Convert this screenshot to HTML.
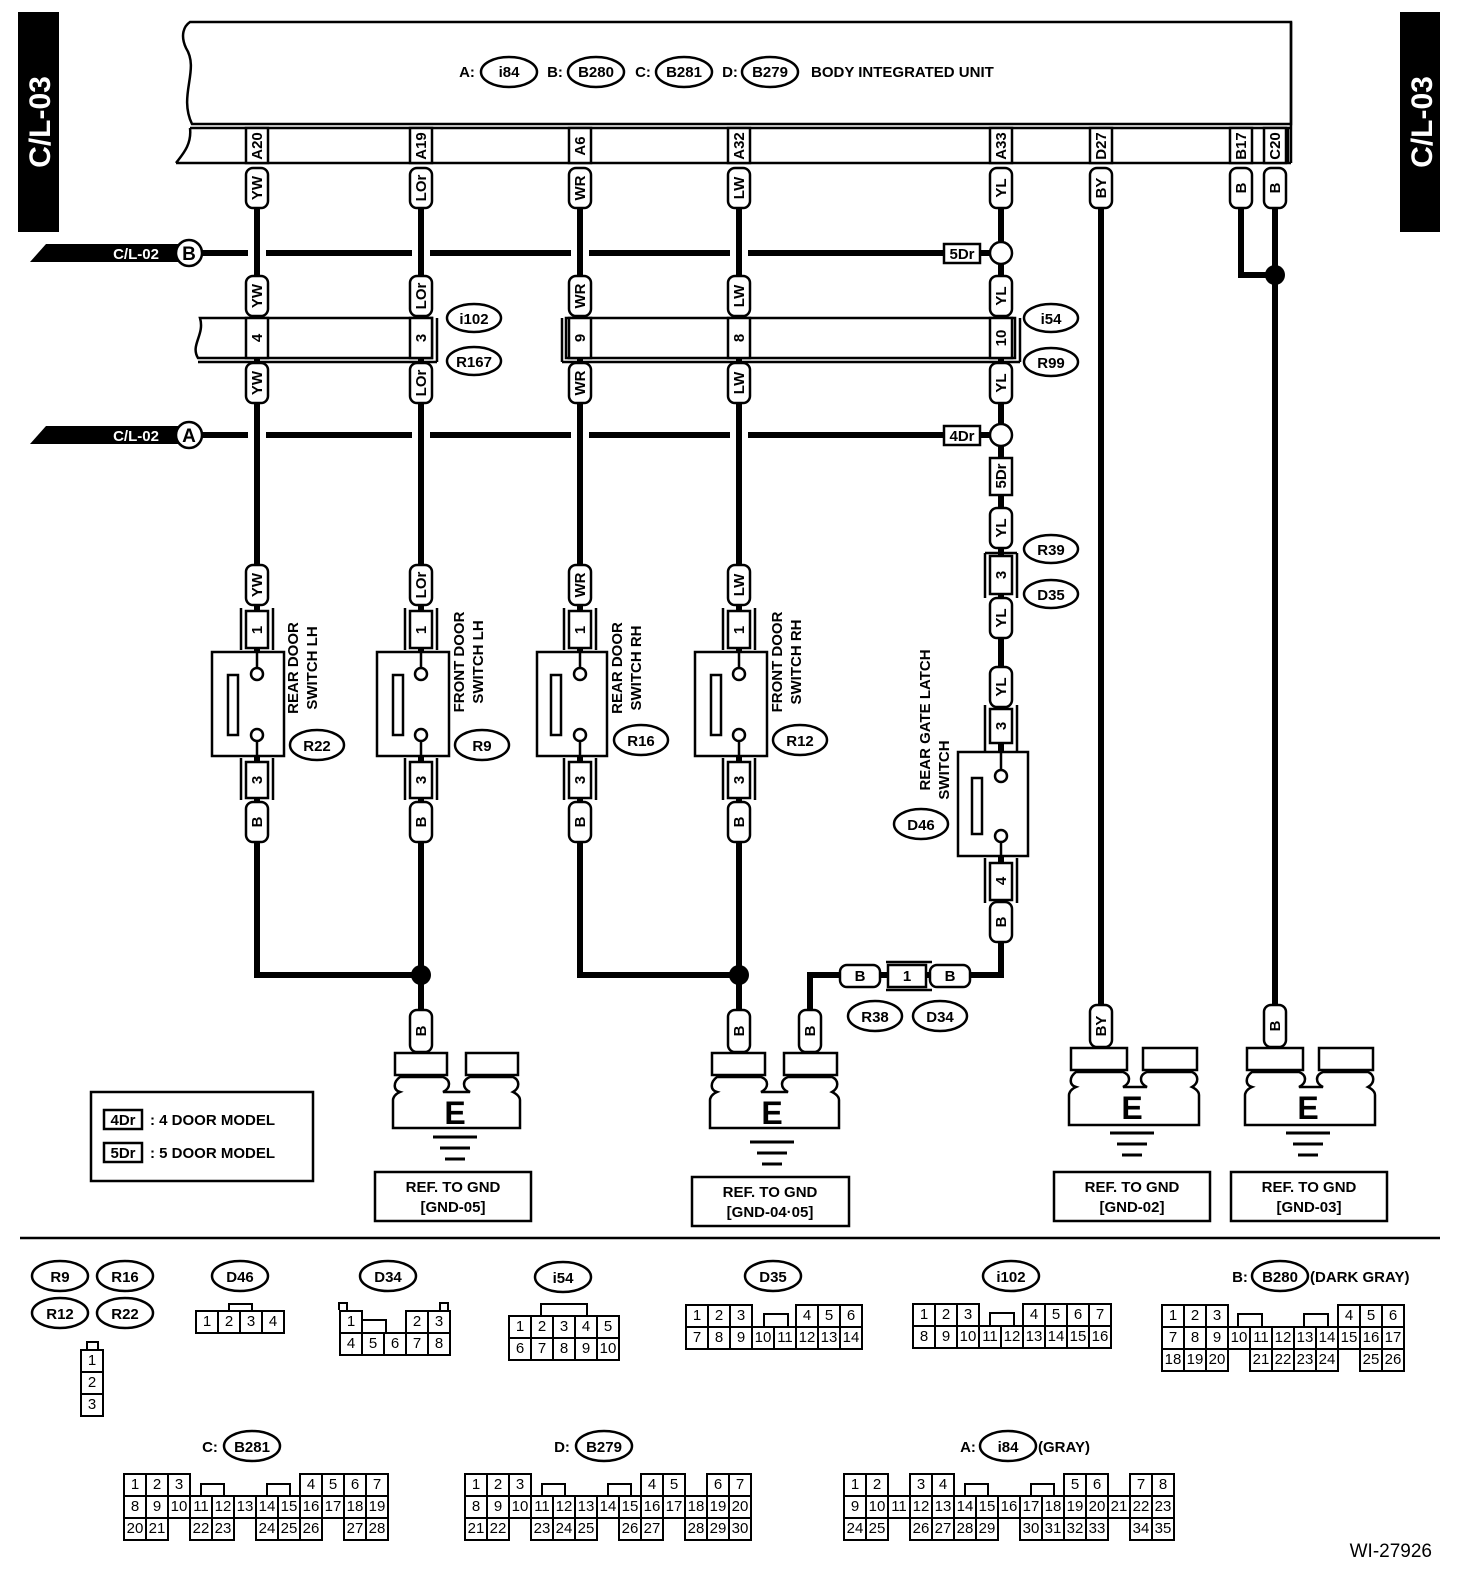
<!DOCTYPE html>
<html><head><meta charset="utf-8"><style>
body{margin:0;background:#fff}
#w{position:relative;width:1472px;height:1576px;overflow:hidden;font-family:"Liberation Sans",sans-serif}
svg{position:absolute;left:0;top:0}
svg text{font-family:"Liberation Sans",sans-serif;font-weight:bold}
table{position:absolute;border-collapse:collapse;font-size:15px}
td{border:2px solid #000;width:20px;height:20px;padding:0;text-align:center;line-height:20px}
td.n{border:none}
</style></head><body><div id="w">
<svg width="1472" height="1576" viewBox="0 0 1472 1576">
<g fill="none" stroke="#000" stroke-width="2.5">
<path d="M190,22 H1291 V124 H192 C178,95 200,70 186,48 C180,35 184,26 190,22 Z"/>
<path d="M190,128 H1291 M176,163 H1291 M190,128 C192,145 182,155 176,163 M1291,22 V163 M1288,128 V163"/>
</g>
<rect x="18" y="12" width="41" height="220"/>
<rect x="1400" y="12" width="40" height="220"/>
<text transform="translate(50,122) rotate(-90)" fill="#fff" font-size="30" text-anchor="middle">C/L-03</text>
<text transform="translate(1432,122) rotate(-90)" fill="#fff" font-size="30" text-anchor="middle">C/L-03</text>
<g font-size="15" text-anchor="middle">
<text x="467" y="77">A:</text><ellipse cx="509" cy="72" rx="28" ry="15" fill="none" stroke="#000" stroke-width="2.5"/><text x="509" y="77">i84</text>
<text x="555" y="77">B:</text><ellipse cx="596" cy="72" rx="28" ry="15" fill="none" stroke="#000" stroke-width="2.5"/><text x="596" y="77">B280</text>
<text x="643" y="77">C:</text><ellipse cx="684" cy="72" rx="28" ry="15" fill="none" stroke="#000" stroke-width="2.5"/><text x="684" y="77">B281</text>
<text x="730" y="77">D:</text><ellipse cx="770" cy="72" rx="28" ry="15" fill="none" stroke="#000" stroke-width="2.5"/><text x="770" y="77">B279</text>
<text x="811" y="77" text-anchor="start">BODY INTEGRATED UNIT</text>
</g>
<g stroke="#000" stroke-width="6">
<line x1="180" y1="253" x2="1001" y2="253"/><line x1="180" y1="435" x2="1001" y2="435"/>
</g>
<g fill="#fff">
<rect x="248" y="240" width="18" height="26"/><rect x="412" y="240" width="18" height="26"/><rect x="571" y="240" width="18" height="26"/><rect x="730" y="240" width="18" height="26"/>
<rect x="248" y="422" width="18" height="26"/><rect x="412" y="422" width="18" height="26"/><rect x="571" y="422" width="18" height="26"/><rect x="730" y="422" width="18" height="26"/>
</g>
<polygon points="30,262 46,244 180,244 180,262"/><polygon points="30,444 46,426 180,426 180,444"/>
<text x="136" y="259" fill="#fff" font-size="15" font-weight="normal" text-anchor="middle">C/L-02</text>
<text x="136" y="441" fill="#fff" font-size="15" font-weight="normal" text-anchor="middle">C/L-02</text>
<g fill="#fff" stroke="#000" stroke-width="2.5"><circle cx="189" cy="253" r="13"/><circle cx="189" cy="435" r="13"/></g>
<text x="189" y="260" font-size="19" text-anchor="middle">B</text><text x="189" y="442" font-size="19" text-anchor="middle">A</text>
<g stroke="#000" stroke-width="6" fill="none">
<path d="M257,207 V975 H421"/><path d="M421,207 V1010"/>
<path d="M580,207 V975 H739"/><path d="M739,207 V1010"/>
<path d="M1001,207 V975 H810 V1010"/>
<path d="M1101,207 V1005"/><path d="M1241,207 V275 H1275"/><path d="M1275,207 V1005"/>
</g>
<circle cx="421" cy="975" r="10"/><circle cx="739" cy="975" r="10"/><circle cx="1275" cy="275" r="10"/>
<g fill="#fff" stroke="#000" stroke-width="2.5"><circle cx="1001" cy="253" r="11"/><circle cx="1001" cy="435" r="11"/></g>
<g fill="#fff" stroke="#000" stroke-width="2.5">
<path d="M200,318 H432 V358 H198 C190,345 205,335 200,318 Z"/>
<path d="M566,318 H1015 V358 H566 Z"/>
</g>
<g stroke="#000" stroke-width="2.5"><line x1="437" y1="318" x2="437" y2="362"/><line x1="198" y1="362" x2="437" y2="362"/><line x1="562" y1="318" x2="562" y2="362"/><line x1="562" y1="362" x2="1020" y2="362"/><line x1="1020" y1="318" x2="1020" y2="362"/></g>
<g fill="#fff" stroke="#000" stroke-width="2.5">
<rect x="246" y="128" width="22" height="35"/><rect x="410" y="128" width="22" height="35"/><rect x="569" y="128" width="22" height="35"/><rect x="728" y="128" width="22" height="35"/><rect x="990" y="128" width="22" height="35"/><rect x="1090" y="128" width="22" height="35"/><rect x="1230" y="128" width="22" height="35"/><rect x="1264" y="128" width="22" height="35"/>
<rect x="246" y="168" width="22" height="40" rx="7"/><rect x="410" y="168" width="22" height="40" rx="7"/><rect x="569" y="168" width="22" height="40" rx="7"/><rect x="728" y="168" width="22" height="40" rx="7"/><rect x="990" y="168" width="22" height="40" rx="7"/><rect x="1090" y="168" width="22" height="40" rx="7"/><rect x="1230" y="168" width="22" height="40" rx="7"/><rect x="1264" y="168" width="22" height="40" rx="7"/>
<rect x="246" y="276" width="22" height="40" rx="7"/><rect x="410" y="276" width="22" height="40" rx="7"/><rect x="569" y="276" width="22" height="40" rx="7"/><rect x="728" y="276" width="22" height="40" rx="7"/><rect x="990" y="276" width="22" height="40" rx="7"/>
<rect x="246" y="318" width="22" height="40"/><rect x="410" y="318" width="22" height="40"/><rect x="569" y="318" width="22" height="40"/><rect x="728" y="318" width="22" height="40"/><rect x="990" y="318" width="22" height="40"/>
<rect x="246" y="363" width="22" height="40" rx="7"/><rect x="410" y="363" width="22" height="40" rx="7"/><rect x="569" y="363" width="22" height="40" rx="7"/><rect x="728" y="363" width="22" height="40" rx="7"/><rect x="990" y="363" width="22" height="40" rx="7"/>
<rect x="944" y="244" width="36" height="19"/><rect x="944" y="426" width="36" height="19"/>
<rect x="990" y="458" width="22" height="37"/>
<rect x="990" y="508" width="22" height="40" rx="7"/><rect x="990" y="556" width="22" height="38"/><rect x="990" y="598" width="22" height="40" rx="7"/>
<rect x="990" y="667" width="22" height="40" rx="7"/><rect x="990" y="709" width="22" height="34"/>
<rect x="958" y="752" width="70" height="104"/>
<rect x="990" y="863" width="22" height="37"/><rect x="990" y="902" width="22" height="40" rx="7"/>
<rect x="840" y="965" width="40" height="22" rx="7"/><rect x="888" y="965" width="38" height="22"/><rect x="930" y="965" width="40" height="22" rx="7"/>
<rect x="246" y="565" width="22" height="40" rx="7"/><rect x="410" y="565" width="22" height="40" rx="7"/><rect x="569" y="565" width="22" height="40" rx="7"/><rect x="728" y="565" width="22" height="40" rx="7"/>
<rect x="246" y="611" width="22" height="37"/><rect x="410" y="611" width="22" height="37"/><rect x="569" y="611" width="22" height="37"/><rect x="728" y="611" width="22" height="37"/>
<rect x="212" y="652" width="72" height="104"/><rect x="377" y="652" width="72" height="104"/><rect x="537" y="652" width="70" height="104"/><rect x="695" y="652" width="72" height="104"/>
<rect x="246" y="762" width="22" height="36"/><rect x="410" y="762" width="22" height="36"/><rect x="569" y="762" width="22" height="36"/><rect x="728" y="762" width="22" height="36"/>
<rect x="246" y="802" width="22" height="40" rx="7"/><rect x="410" y="802" width="22" height="40" rx="7"/><rect x="569" y="802" width="22" height="40" rx="7"/><rect x="728" y="802" width="22" height="40" rx="7"/>
<rect x="410" y="1010" width="22" height="42" rx="7"/><rect x="728" y="1010" width="22" height="42" rx="7"/><rect x="799" y="1010" width="22" height="42" rx="7"/><rect x="1090" y="1005" width="22" height="42" rx="7"/><rect x="1264" y="1005" width="22" height="42" rx="7"/>
</g>
<g stroke="#000" stroke-width="2.5">
<path d="M241,608 V650 M273,608 V650 M405,608 V650 M437,608 V650 M564,608 V650 M596,608 V650 M723,608 V650 M755,608 V650"/>
<path d="M241,758 V800 M273,758 V800 M405,758 V800 M437,758 V800 M564,758 V800 M596,758 V800 M723,758 V800 M755,758 V800"/>
<path d="M985,553 V598 M1017,553 V598 M985,553 H1017 M985,705 V752 M1017,705 V752 M985,858 V903 M1017,858 V903 M886,962 H932 M886,990 H932"/>
<path d="M257,652 V668 M257,740 V756 M421,652 V668 M421,740 V756 M580,652 V668 M580,740 V756 M739,652 V668 M739,740 V756 M1001,752 V770 M1001,842 V856"/>
</g>
<g fill="#fff" stroke="#000" stroke-width="2.5">
<rect x="228" y="675" width="10" height="60"/><rect x="393" y="675" width="10" height="60"/><rect x="551" y="675" width="10" height="60"/><rect x="711" y="675" width="10" height="60"/><rect x="972" y="778" width="10" height="56"/>
<circle cx="257" cy="674" r="6"/><circle cx="257" cy="735" r="6"/><circle cx="421" cy="674" r="6"/><circle cx="421" cy="735" r="6"/><circle cx="580" cy="674" r="6"/><circle cx="580" cy="735" r="6"/><circle cx="739" cy="674" r="6"/><circle cx="739" cy="735" r="6"/><circle cx="1001" cy="776" r="6"/><circle cx="1001" cy="836" r="6"/>
</g>
<g font-size="15" text-anchor="middle">
<text transform="translate(262,146) rotate(-90)">A20</text><text transform="translate(426,146) rotate(-90)">A19</text><text transform="translate(585,146) rotate(-90)">A6</text><text transform="translate(744,146) rotate(-90)">A32</text><text transform="translate(1006,146) rotate(-90)">A33</text><text transform="translate(1106,146) rotate(-90)">D27</text><text transform="translate(1246,146) rotate(-90)">B17</text><text transform="translate(1280,146) rotate(-90)">C20</text>
<text transform="translate(262,188) rotate(-90)">YW</text><text transform="translate(426,188) rotate(-90)">LOr</text><text transform="translate(585,188) rotate(-90)">WR</text><text transform="translate(744,188) rotate(-90)">LW</text><text transform="translate(1006,188) rotate(-90)">YL</text><text transform="translate(1106,188) rotate(-90)">BY</text><text transform="translate(1246,188) rotate(-90)">B</text><text transform="translate(1280,188) rotate(-90)">B</text>
<text transform="translate(262,296) rotate(-90)">YW</text><text transform="translate(426,296) rotate(-90)">LOr</text><text transform="translate(585,296) rotate(-90)">WR</text><text transform="translate(744,296) rotate(-90)">LW</text><text transform="translate(1006,296) rotate(-90)">YL</text>
<text transform="translate(262,338) rotate(-90)">4</text><text transform="translate(426,338) rotate(-90)">3</text><text transform="translate(585,338) rotate(-90)">9</text><text transform="translate(744,338) rotate(-90)">8</text><text transform="translate(1006,338) rotate(-90)">10</text>
<text transform="translate(262,383) rotate(-90)">YW</text><text transform="translate(426,383) rotate(-90)">LOr</text><text transform="translate(585,383) rotate(-90)">WR</text><text transform="translate(744,383) rotate(-90)">LW</text><text transform="translate(1006,383) rotate(-90)">YL</text>
<text transform="translate(1006,476) rotate(-90)">5Dr</text><text transform="translate(1006,528) rotate(-90)">YL</text><text transform="translate(1006,575) rotate(-90)">3</text><text transform="translate(1006,618) rotate(-90)">YL</text><text transform="translate(1006,687) rotate(-90)">YL</text><text transform="translate(1006,726) rotate(-90)">3</text><text transform="translate(1006,881) rotate(-90)">4</text><text transform="translate(1006,922) rotate(-90)">B</text>
<text transform="translate(262,585) rotate(-90)">YW</text><text transform="translate(426,585) rotate(-90)">LOr</text><text transform="translate(585,585) rotate(-90)">WR</text><text transform="translate(744,585) rotate(-90)">LW</text>
<text transform="translate(262,630) rotate(-90)">1</text><text transform="translate(426,630) rotate(-90)">1</text><text transform="translate(585,630) rotate(-90)">1</text><text transform="translate(744,630) rotate(-90)">1</text>
<text transform="translate(262,780) rotate(-90)">3</text><text transform="translate(426,780) rotate(-90)">3</text><text transform="translate(585,780) rotate(-90)">3</text><text transform="translate(744,780) rotate(-90)">3</text>
<text transform="translate(262,822) rotate(-90)">B</text><text transform="translate(426,822) rotate(-90)">B</text><text transform="translate(585,822) rotate(-90)">B</text><text transform="translate(744,822) rotate(-90)">B</text>
<text transform="translate(426,1031) rotate(-90)">B</text><text transform="translate(744,1031) rotate(-90)">B</text><text transform="translate(815,1031) rotate(-90)">B</text><text transform="translate(1106,1026) rotate(-90)">BY</text><text transform="translate(1280,1026) rotate(-90)">B</text>
<text transform="translate(298,668) rotate(-90)">REAR DOOR</text><text transform="translate(317,668) rotate(-90)">SWITCH LH</text>
<text transform="translate(464,662) rotate(-90)">FRONT DOOR</text><text transform="translate(483,662) rotate(-90)">SWITCH LH</text>
<text transform="translate(622,668) rotate(-90)">REAR DOOR</text><text transform="translate(641,668) rotate(-90)">SWITCH RH</text>
<text transform="translate(782,662) rotate(-90)">FRONT DOOR</text><text transform="translate(801,662) rotate(-90)">SWITCH RH</text>
<text transform="translate(930,720) rotate(-90)">REAR GATE LATCH</text><text transform="translate(949,770) rotate(-90)">SWITCH</text>
<text x="962" y="259">5Dr</text><text x="962" y="441">4Dr</text>
<text x="860" y="981">B</text><text x="907" y="981">1</text><text x="950" y="981">B</text>
</g>
<g fill="none" stroke="#000" stroke-width="2.5">
<ellipse cx="474" cy="318" rx="27" ry="14"/><ellipse cx="474" cy="361" rx="27" ry="14"/><ellipse cx="1051" cy="318" rx="27" ry="14"/><ellipse cx="1051" cy="362" rx="27" ry="14"/>
<ellipse cx="1051" cy="549" rx="27" ry="14"/><ellipse cx="1051" cy="594" rx="27" ry="14"/>
<ellipse cx="317" cy="745" rx="27" ry="15"/><ellipse cx="482" cy="745" rx="27" ry="15"/><ellipse cx="641" cy="740" rx="27" ry="15"/><ellipse cx="800" cy="740" rx="27" ry="15"/>
<ellipse cx="921" cy="824" rx="27" ry="15"/><ellipse cx="875" cy="1016" rx="27" ry="15"/><ellipse cx="940" cy="1016" rx="27" ry="15"/>
</g>
<g font-size="15" text-anchor="middle">
<text x="474" y="324">i102</text><text x="474" y="367">R167</text><text x="1051" y="324">i54</text><text x="1051" y="368">R99</text><text x="1051" y="555">R39</text><text x="1051" y="600">D35</text>
<text x="317" y="751">R22</text><text x="482" y="751">R9</text><text x="641" y="746">R16</text><text x="800" y="746">R12</text><text x="921" y="830">D46</text><text x="875" y="1022">R38</text><text x="940" y="1022">D34</text>
</g>
<g fill="#fff" stroke="#000" stroke-width="2.5">
<path d="M395,1053 H447 V1075 H395 Z M466,1053 H518 V1075 H466 Z"/>
<path d="M400,1077 C393,1082 393,1090 400,1092 C393,1095 393,1100 393,1100 V1128 H520 V1100 C520,1095 513,1092 513,1092 C520,1088 520,1080 513,1077 H470 C462,1080 462,1088 470,1092 H443 C451,1088 451,1080 443,1077 Z"/>
<path d="M712,1053 H765 V1075 H712 Z M784,1053 H837 V1075 H784 Z"/>
<path d="M717,1077 C710,1082 710,1090 717,1092 C710,1095 710,1100 710,1100 V1128 H839 V1100 C839,1095 832,1092 832,1092 C839,1088 839,1080 832,1077 H788 C780,1080 780,1088 788,1092 H761 C769,1088 769,1080 761,1077 Z"/>
<path d="M1071,1048 H1127 V1070 H1071 Z M1143,1048 H1197 V1070 H1143 Z"/>
<path d="M1076,1072 C1069,1077 1069,1085 1076,1087 C1069,1090 1069,1095 1069,1095 V1125 H1199 V1095 C1199,1090 1192,1087 1192,1087 C1199,1083 1199,1075 1192,1072 H1147 C1139,1075 1139,1083 1147,1087 H1123 C1131,1083 1131,1075 1123,1072 Z"/>
<path d="M1247,1048 H1303 V1070 H1247 Z M1319,1048 H1373 V1070 H1319 Z"/>
<path d="M1252,1072 C1245,1077 1245,1085 1252,1087 C1245,1090 1245,1095 1245,1095 V1125 H1375 V1095 C1375,1090 1368,1087 1368,1087 C1375,1083 1375,1075 1368,1072 H1323 C1315,1075 1315,1083 1323,1087 H1299 C1307,1083 1307,1075 1299,1072 Z"/>
<rect x="375" y="1172" width="156" height="49"/><rect x="692" y="1177" width="157" height="49"/><rect x="1054" y="1172" width="156" height="49"/><rect x="1231" y="1172" width="156" height="49"/>
<rect x="91" y="1092" width="222" height="89"/>
<rect x="104" y="1110" width="38" height="19"/><rect x="104" y="1143" width="38" height="19"/>
</g>
<g stroke="#000" stroke-width="3">
<path d="M433,1137 H477 M440,1148 H470 M445,1159 H465"/>
<path d="M750,1142 H794 M757,1153 H787 M762,1164 H782"/>
<path d="M1110,1133 H1154 M1117,1144 H1147 M1122,1155 H1142"/>
<path d="M1286,1133 H1330 M1293,1144 H1323 M1298,1155 H1318"/>
<path d="M20,1238 H1440" stroke-width="2.5"/>
</g>
<g font-size="32" text-anchor="middle"><text x="455" y="1124">E</text><text x="772" y="1124">E</text><text x="1132" y="1119">E</text><text x="1308" y="1119">E</text></g>
<g font-size="15" text-anchor="middle">
<text x="453" y="1192">REF. TO GND</text><text x="453" y="1212">[GND-05]</text>
<text x="770" y="1197">REF. TO GND</text><text x="770" y="1217">[GND-04·05]</text>
<text x="1132" y="1192">REF. TO GND</text><text x="1132" y="1212">[GND-02]</text>
<text x="1309" y="1192">REF. TO GND</text><text x="1309" y="1212">[GND-03]</text>
<text x="123" y="1125">4Dr</text><text x="123" y="1158">5Dr</text>
<text x="150" y="1125" text-anchor="start">: 4 DOOR MODEL</text><text x="150" y="1158" text-anchor="start">: 5 DOOR MODEL</text>
</g>
<g fill="none" stroke="#000" stroke-width="2.5">
<ellipse cx="60" cy="1276" rx="28" ry="15"/><ellipse cx="125" cy="1276" rx="28" ry="15"/><ellipse cx="60" cy="1313" rx="28" ry="15"/><ellipse cx="125" cy="1313" rx="28" ry="15"/>
<ellipse cx="240" cy="1276" rx="28" ry="15"/><ellipse cx="388" cy="1276" rx="28" ry="15"/><ellipse cx="563" cy="1277" rx="28" ry="15"/><ellipse cx="773" cy="1276" rx="28" ry="15"/><ellipse cx="1011" cy="1276" rx="28" ry="15"/>
<ellipse cx="1280" cy="1276" rx="28" ry="15"/><ellipse cx="252" cy="1446" rx="28" ry="15"/><ellipse cx="604" cy="1446" rx="28" ry="15"/><ellipse cx="1008" cy="1446" rx="28" ry="15"/>
</g>
<g font-size="15" text-anchor="middle">
<text x="60" y="1282">R9</text><text x="125" y="1282">R16</text><text x="60" y="1319">R12</text><text x="125" y="1319">R22</text>
<text x="240" y="1282">D46</text><text x="388" y="1282">D34</text><text x="563" y="1283">i54</text><text x="773" y="1282">D35</text><text x="1011" y="1282">i102</text>
<text x="1240" y="1282">B:</text><text x="1280" y="1282">B280</text><text x="1310" y="1282" text-anchor="start">(DARK GRAY)</text>
<text x="210" y="1452">C:</text><text x="252" y="1452">B281</text>
<text x="562" y="1452">D:</text><text x="604" y="1452">B279</text>
<text x="968" y="1452">A:</text><text x="1008" y="1452">i84</text><text x="1038" y="1452" text-anchor="start">(GRAY)</text>
</g>
<text x="1432" y="1557" font-size="19" text-anchor="end" style="font-weight:normal">WI-27926</text>
<g fill="none" stroke="#000" stroke-width="2">
<path d="M87,1349 V1342 H98 V1349"/><path d="M229,1310 V1304 H252 V1310"/>
<path d="M339,1310 V1303 H347 V1310 M440,1310 V1303 H448 V1310 M362,1332 V1320 H386 V1332"/>
<path d="M541,1315 V1304 H587 V1315"/>
<path d="M764,1326 V1314 H788 V1326"/><path d="M990,1325 V1313 H1014 V1325"/>
<path d="M1238,1326 V1314 H1262 V1326 M1304,1326 V1314 H1328 V1326"/>
<path d="M201,1495 V1484 H224 V1495 M267,1495 V1484 H290 V1495"/>
<path d="M542,1495 V1484 H565 V1495 M608,1495 V1484 H631 V1495"/>
<path d="M965,1495 V1484 H988 V1495 M1031,1495 V1484 H1054 V1495"/>
</g>
</svg>
<table style="left:80px;top:1349px"><tr><td>1</td></tr><tr><td>2</td></tr><tr><td>3</td></tr></table>
<table style="left:195px;top:1310px"><tr><td>1</td><td>2</td><td>3</td><td>4</td></tr></table>
<table style="left:339px;top:1310px"><tr><td>1</td><td class="n"></td><td class="n"></td><td>2</td><td>3</td></tr><tr><td>4</td><td>5</td><td>6</td><td>7</td><td>8</td></tr></table>
<table style="left:508px;top:1315px"><tr><td>1</td><td>2</td><td>3</td><td>4</td><td>5</td></tr><tr><td>6</td><td>7</td><td>8</td><td>9</td><td>10</td></tr></table>
<table style="left:685px;top:1304px"><tr><td>1</td><td>2</td><td>3</td><td class="n"></td><td class="n"></td><td>4</td><td>5</td><td>6</td></tr><tr><td>7</td><td>8</td><td>9</td><td>10</td><td>11</td><td>12</td><td>13</td><td>14</td></tr></table>
<table style="left:912px;top:1303px"><tr><td>1</td><td>2</td><td>3</td><td class="n"></td><td class="n"></td><td>4</td><td>5</td><td>6</td><td>7</td></tr><tr><td>8</td><td>9</td><td>10</td><td>11</td><td>12</td><td>13</td><td>14</td><td>15</td><td>16</td></tr></table>
<table style="left:1161px;top:1304px"><tr><td>1</td><td>2</td><td>3</td><td class="n"></td><td class="n"></td><td class="n"></td><td class="n"></td><td class="n"></td><td>4</td><td>5</td><td>6</td></tr><tr><td>7</td><td>8</td><td>9</td><td>10</td><td>11</td><td>12</td><td>13</td><td>14</td><td>15</td><td>16</td><td>17</td></tr><tr><td>18</td><td>19</td><td>20</td><td class="n"></td><td>21</td><td>22</td><td>23</td><td>24</td><td class="n"></td><td>25</td><td>26</td></tr></table>
<table style="left:123px;top:1473px"><tr><td>1</td><td>2</td><td>3</td><td class="n"></td><td class="n"></td><td class="n"></td><td class="n"></td><td class="n"></td><td>4</td><td>5</td><td>6</td><td>7</td></tr><tr><td>8</td><td>9</td><td>10</td><td>11</td><td>12</td><td>13</td><td>14</td><td>15</td><td>16</td><td>17</td><td>18</td><td>19</td></tr><tr><td>20</td><td>21</td><td class="n"></td><td>22</td><td>23</td><td class="n"></td><td>24</td><td>25</td><td>26</td><td class="n"></td><td>27</td><td>28</td></tr></table>
<table style="left:464px;top:1473px"><tr><td>1</td><td>2</td><td>3</td><td class="n"></td><td class="n"></td><td class="n"></td><td class="n"></td><td class="n"></td><td>4</td><td>5</td><td class="n"></td><td>6</td><td>7</td></tr><tr><td>8</td><td>9</td><td>10</td><td>11</td><td>12</td><td>13</td><td>14</td><td>15</td><td>16</td><td>17</td><td>18</td><td>19</td><td>20</td></tr><tr><td>21</td><td>22</td><td class="n"></td><td>23</td><td>24</td><td>25</td><td class="n"></td><td>26</td><td>27</td><td class="n"></td><td>28</td><td>29</td><td>30</td></tr></table>
<table style="left:843px;top:1473px"><tr><td>1</td><td>2</td><td class="n"></td><td>3</td><td>4</td><td class="n"></td><td class="n"></td><td class="n"></td><td class="n"></td><td class="n"></td><td>5</td><td>6</td><td class="n"></td><td>7</td><td>8</td></tr><tr><td>9</td><td>10</td><td>11</td><td>12</td><td>13</td><td>14</td><td>15</td><td>16</td><td>17</td><td>18</td><td>19</td><td>20</td><td>21</td><td>22</td><td>23</td></tr><tr><td>24</td><td>25</td><td class="n"></td><td>26</td><td>27</td><td>28</td><td>29</td><td class="n"></td><td>30</td><td>31</td><td>32</td><td>33</td><td class="n"></td><td>34</td><td>35</td></tr></table>
</div></body></html>
